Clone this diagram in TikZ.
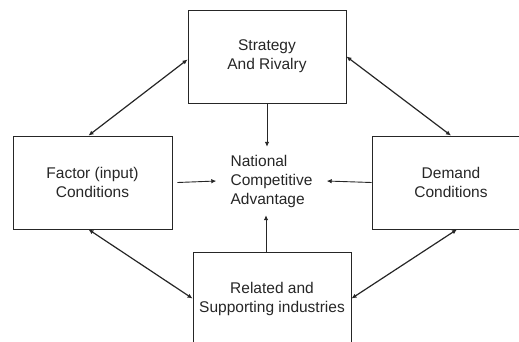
\documentclass[tikz,border=0pt]{standalone}
\usepackage{fontspec}
\setmainfont{Liberation Sans}
\usetikzlibrary{arrows.meta}
\begin{document}
\begin{tikzpicture}[x=1pt,y=-1pt]
% Styles
\tikzstyle{cadre}=[draw=black!85,line width=0.9pt,minimum width=158pt,minimum height=93pt,align=center,font=\fontsize{15.5}{19}\selectfont,text=black!85]
\tikzstyle{fleche}=[-{Latex[length=5pt,width=4.5pt]},black!85,line width=0.9pt]
\tikzstyle{double}=[{Latex[length=5pt,width=4.5pt]}-{Latex[length=5pt,width=4.5pt]},black!85,line width=1.2pt]
% Dimensions
\def\Lrg{519}
\def\Ht{341}
\useasboundingbox (0,0) rectangle (\Lrg,\Ht);
% Boites
\node[cadre] (strategy) at (267,56.5) {Strategy\\And Rivalry};
\node[cadre,minimum width=159pt] (factor) at (92.5,182.5) {Factor (input)\\Conditions};
\node[cadre] (demand) at (451,182.5) {Demand\\Conditions};
\node[cadre] (related) at (272,298.5) {Related and\\Supporting industries};
% Centre
\node[align=left,minimum width=110pt,minimum height=68pt,inner sep=0pt,font=\fontsize{15.5}{19}\selectfont,text=black!85] (nca) at (271.5,181) {National\\Competitive\\Advantage};
% Fleches vers le centre
\draw[fleche] (strategy.south) -- (strategy.south |- nca.north);
\draw[fleche] ([xshift=5pt]factor.east) -- (nca.west);
\draw[fleche] (demand.west) -- (nca.east);
\draw[fleche] ([xshift=-6pt]related.north) -- ([xshift=-6pt]related.north |- nca.south);
% Fleches doubles
\draw[double] ([yshift=-3pt]strategy.west) -- ([xshift=-4pt]factor.north);
\draw[double] (strategy.east) -- (demand.north);
\draw[double] ([xshift=-4pt]factor.south) -- (related.west);
\draw[double] ([xshift=6pt]demand.south) -- (related.east);
\end{tikzpicture}
\end{document}
